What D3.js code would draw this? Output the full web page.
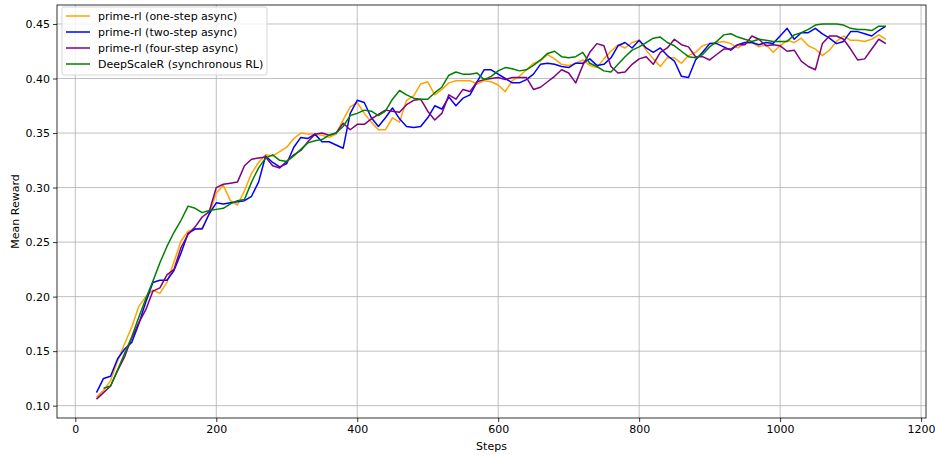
<!DOCTYPE html>
<html><head><meta charset="utf-8">
<script src="https://cdn.jsdelivr.net/npm/d3@7"></script>
<style>body{margin:0;background:#fff}svg{display:block;font-family:"DejaVu Sans",sans-serif}</style>
</head><body><svg id="c" width="935" height="455"></svg>
<script>
const steps = d3.range(30, 1151, 10);
const oneStep = [0.108,0.114,0.123,0.141,0.157,0.172,0.191,0.200,0.206,0.203,0.213,0.232,0.251,0.260,0.262,0.263,0.276,0.295,0.302,0.288,0.284,0.297,0.313,0.323,0.330,0.329,0.333,0.337,0.345,0.350,0.349,0.349,0.348,0.346,0.349,0.362,0.374,0.378,0.368,0.360,0.353,0.353,0.364,0.360,0.380,0.384,0.395,0.397,0.385,0.390,0.396,0.398,0.398,0.398,0.395,0.398,0.397,0.394,0.388,0.398,0.402,0.408,0.414,0.416,0.422,0.418,0.413,0.412,0.414,0.417,0.412,0.410,0.418,0.425,0.431,0.428,0.433,0.435,0.426,0.418,0.411,0.419,0.419,0.414,0.421,0.424,0.430,0.432,0.433,0.434,0.432,0.428,0.432,0.433,0.429,0.431,0.424,0.430,0.435,0.433,0.437,0.430,0.427,0.421,0.426,0.434,0.439,0.435,0.435,0.434,0.436,0.440,0.436];
const twoStep = [0.112,0.125,0.127,0.143,0.152,0.158,0.175,0.195,0.213,0.215,0.215,0.224,0.240,0.258,0.262,0.262,0.276,0.286,0.285,0.286,0.287,0.288,0.292,0.305,0.329,0.323,0.319,0.322,0.337,0.346,0.345,0.349,0.342,0.342,0.339,0.336,0.368,0.380,0.378,0.364,0.356,0.364,0.373,0.363,0.356,0.355,0.356,0.364,0.375,0.372,0.383,0.375,0.382,0.385,0.397,0.408,0.408,0.404,0.400,0.396,0.396,0.399,0.404,0.413,0.414,0.413,0.411,0.410,0.414,0.414,0.418,0.412,0.413,0.419,0.430,0.433,0.428,0.435,0.428,0.424,0.428,0.421,0.416,0.402,0.401,0.417,0.424,0.432,0.432,0.429,0.426,0.431,0.433,0.433,0.431,0.433,0.432,0.439,0.446,0.436,0.442,0.442,0.446,0.441,0.437,0.432,0.434,0.443,0.443,0.441,0.439,0.444,0.448];
const fourStep = [0.106,0.112,0.118,0.132,0.145,0.162,0.176,0.188,0.205,0.208,0.220,0.225,0.245,0.257,0.264,0.273,0.278,0.300,0.303,0.304,0.305,0.320,0.326,0.327,0.328,0.320,0.318,0.324,0.330,0.334,0.342,0.349,0.350,0.348,0.350,0.359,0.353,0.358,0.358,0.363,0.367,0.371,0.370,0.369,0.376,0.380,0.381,0.370,0.362,0.368,0.385,0.381,0.390,0.388,0.397,0.399,0.400,0.401,0.399,0.401,0.401,0.401,0.390,0.392,0.397,0.402,0.408,0.405,0.396,0.412,0.424,0.432,0.430,0.411,0.405,0.406,0.413,0.418,0.420,0.413,0.424,0.428,0.436,0.431,0.429,0.420,0.420,0.417,0.422,0.427,0.427,0.431,0.431,0.439,0.436,0.430,0.431,0.430,0.425,0.426,0.416,0.411,0.408,0.432,0.439,0.439,0.436,0.427,0.417,0.418,0.427,0.436,0.432];
const deepScaleR = [null,0.116,0.118,0.133,0.148,0.163,0.181,0.198,0.214,0.231,0.246,0.259,0.270,0.283,0.281,0.277,0.279,0.280,0.281,0.285,0.288,0.289,0.305,0.318,0.327,0.330,0.325,0.324,0.329,0.335,0.341,0.343,0.344,0.348,0.350,0.356,0.366,0.368,0.371,0.370,0.366,0.370,0.381,0.389,0.385,0.382,0.381,0.381,0.387,0.392,0.403,0.406,0.404,0.404,0.405,0.399,0.402,0.407,0.410,0.409,0.407,0.408,0.412,0.417,0.423,0.425,0.420,0.419,0.420,0.424,0.414,0.411,0.407,0.406,0.413,0.420,0.426,0.429,0.433,0.437,0.438,0.433,0.430,0.425,0.420,0.419,0.422,0.429,0.434,0.440,0.441,0.438,0.436,0.434,0.436,0.435,0.434,0.434,0.434,0.440,0.442,0.445,0.449,0.450,0.450,0.450,0.449,0.446,0.445,0.445,0.444,0.448,0.448];
const seriesNames = ["prime-rl (one-step async)","prime-rl (two-step async)","prime-rl (four-step async)","DeepScaleR (synchronous RL)"];
const seriesColors = ["orange","blue","purple","green"];
const xTicks = [0,200,400,600,800,1000,1200];
const yTicks = [0.10,0.15,0.20,0.25,0.30,0.35,0.40,0.45];

const series = [oneStep, twoStep, fourStep, deepScaleR];
const svg = d3.select("#c");
const L = 57, R = 926, T = 5, B = 418;
const x = d3.scaleLinear().domain([-26, 1207]).range([L, R]);
const y = d3.scaleLinear().domain([0.0887, 0.4674]).range([B, T]);

// grid
const g = svg.append("g");
g.selectAll(".gx").data(xTicks).join("line")
  .attr("x1", d => x(d)).attr("x2", d => x(d)).attr("y1", T).attr("y2", B)
  .attr("stroke", "#b0b0b0").attr("stroke-width", 0.8);
g.selectAll(".gy").data(yTicks).join("line")
  .attr("y1", d => y(d)).attr("y2", d => y(d)).attr("x1", L).attr("x2", R)
  .attr("stroke", "#b0b0b0").attr("stroke-width", 0.8);

// lines
const line = d3.line().defined(d => d[1] != null).x(d => x(d[0])).y(d => y(d[1]));
series.forEach((vals, i) => {
  svg.append("path").datum(steps.map((s, j) => [s, vals[j]]))
    .attr("fill", "none").attr("stroke", seriesColors[i]).attr("stroke-width", 1.5)
    .attr("stroke-linejoin", "round").attr("d", line);
});

// axes
const xAxis = d3.axisBottom(x).tickValues(xTicks).tickFormat(d3.format("d")).tickSize(4).tickPadding(3);
const yAxis = d3.axisLeft(y).tickValues(yTicks).tickFormat(d3.format(".2f")).tickSize(4).tickPadding(3);
const gx = svg.append("g").attr("transform", `translate(0,${B})`).call(xAxis);
const gy = svg.append("g").attr("transform", `translate(${L},0)`).call(yAxis);
[gx, gy].forEach(a => {
  a.select(".domain").remove();
  a.selectAll("text").attr("font-size", 11).attr("fill", "#000").attr("font-family", "DejaVu Sans");
  a.selectAll("line").attr("stroke", "#000").attr("stroke-width", 0.8);
});
svg.append("rect").attr("x", L).attr("y", T).attr("width", R - L).attr("height", B - T)
  .attr("fill", "none").attr("stroke", "#000").attr("stroke-width", 0.8);

svg.append("text").attr("x", (L + R) / 2).attr("y", 450).attr("text-anchor", "middle")
  .attr("font-size", 11).text("Steps");
svg.append("text").attr("transform", `translate(19,${(T + B) / 2}) rotate(-90)`)
  .attr("text-anchor", "middle").attr("font-size", 11).text("Mean Reward");

// legend
const lg = svg.append("g");
lg.append("rect").attr("x", 62).attr("y", 7).attr("width", 205).attr("height", 68).attr("rx", 2)
  .attr("fill", "#fff").attr("fill-opacity", 0.8).attr("stroke", "#cccccc").attr("stroke-width", 0.8);
seriesNames.forEach((n, i) => {
  const yy = 16 + i * 16;
  lg.append("line").attr("x1", 66).attr("x2", 90).attr("y1", yy).attr("y2", yy)
    .attr("stroke", seriesColors[i]).attr("stroke-width", 1.5);
  lg.append("text").attr("x", 98).attr("y", yy + 4).attr("font-size", 11).text(n);
});
</script></body></html>
